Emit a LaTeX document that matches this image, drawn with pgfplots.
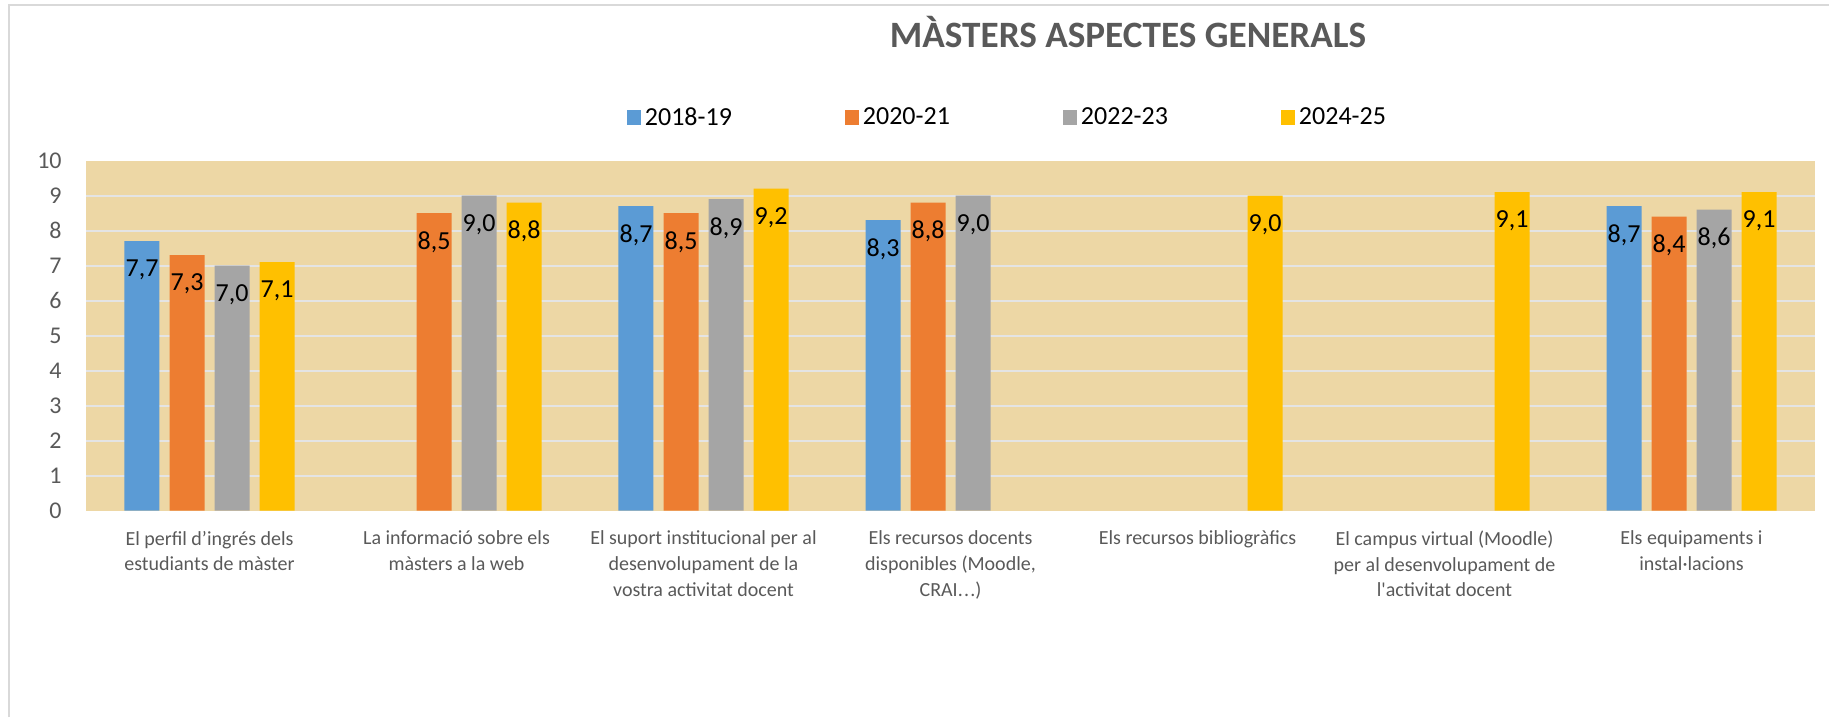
\documentclass[border=0pt]{standalone}
\usepackage{pgfplots}
\pgfplotsset{compat=1.18}
\usepackage{fontspec}
\setmainfont{Carlito}[Ligatures=TeXOff]

\definecolor{c1}{HTML}{5B9BD5}
\definecolor{c2}{HTML}{ED7D31}
\definecolor{c3}{HTML}{A5A5A5}
\definecolor{c4}{HTML}{FFC000}
\definecolor{txtgray}{HTML}{595959}
\definecolor{papyrus}{HTML}{EDD7A5}
\definecolor{gridcol}{HTML}{E4E4E4}
\definecolor{framecol}{HTML}{D9D9D9}

\begin{document}
\begin{tikzpicture}
\useasboundingbox (0,0) rectangle (914.5pt,358.5pt);
% chart frame
\draw[framecol, line width=1pt] (4.5pt,0pt) -- (4.5pt,356pt) -- (914.5pt,356pt);
% title
\node[anchor=base, font=\fontsize{18.6}{21}\selectfont\bfseries, text=txtgray]
  at (564pt,334.5pt) {MÀSTERS ASPECTES GENERALS};

\begin{axis}[
    at={(43pt,103.15pt)}, anchor=south west,
    scale only axis,
    width=864.5pt, height=175pt,
    ybar,
    xmin=-0.5, xmax=6.5,
    ymin=0, ymax=10,
    axis line style={draw=none},
    major tick length=0pt,
    axis background/.style={fill=papyrus},
    ytick={0,1,2,3,4,5,6,7,8,9,10},
    extra y ticks={1,2,3,4,5,6,7,8,9},
    extra y tick labels={},
    extra y tick style={grid=major},
    grid style={color=gridcol, line width=1pt},
    /pgf/number format/assume math mode=true,
    yticklabel style={anchor=east, inner sep=0pt, xshift=-12pt,
        font=\fontsize{12}{14}\selectfont, text=txtgray},
    xtick={0,1,2,3,4,5,6},
    xticklabels={
        {El perfil d’ingrés dels\\estudiants de màster},
        {La informació sobre els\\màsters a la web},
        {El suport institucional per al\\desenvolupament de la\\vostra activitat docent},
        {Els recursos docents\\disponibles (Moodle,\\CRAI.\kern0.6pt.\kern0.6pt.)},
        {Els recursos bibliogràfics},
        {El campus virtual (Moodle)\\per al desenvolupament de\\l'activitat docent},
        {Els equipaments i\\instal·lacions}
    },
    xticklabel style={anchor=north, inner sep=0pt, yshift=-10pt, align=center,
        font=\fontsize{10}{12.8}\selectfont, text=txtgray},
    bar width=0.1417,
    nodes near coords,
    nodes near coords style={
        /pgf/number format/.cd, use comma, fixed, fixed zerofill, precision=1,
        /tikz/.cd, anchor=center, yshift=-14.5pt, inner sep=0pt,
        font=\fontsize{13}{15}\selectfont, text=black},
    legend columns=4,
    legend image code/.code={\fill[#1, draw=none] (0pt,-3.75pt) rectangle (7pt,3.75pt);},
    legend style={at={(0.3129,1.122)}, anchor=west, draw=none, fill=none,
        inner sep=0pt, font=\fontsize{13}{15}\selectfont,
        nodes={inner sep=1.75pt},
        /tikz/every even column/.append style={column sep=55pt}},
]
\addplot[fill=c1, draw=none, bar shift=-0.2733] coordinates {
    (0,7.7) (2,8.7) (3,8.3) (6,8.7)};
\addplot[fill=c2, draw=none, bar shift=-0.0911] coordinates {
    (0,7.3) (1,8.5) (2,8.5) (3,8.8) (6,8.4)};
\addplot[fill=c3, draw=none, bar shift=0.0911] coordinates {
    (0,7.0) (1,9.0) (2,8.9) (3,9.0) (6,8.6)};
\addplot[fill=c4, draw=none, bar shift=0.2733] coordinates {
    (0,7.1) (1,8.8) (2,9.2) (4,9.0) (5,9.1) (6,9.1)};
\legend{2018-19,2020-21,2022-23,2024-25}
\end{axis}
\end{tikzpicture}
\end{document}
